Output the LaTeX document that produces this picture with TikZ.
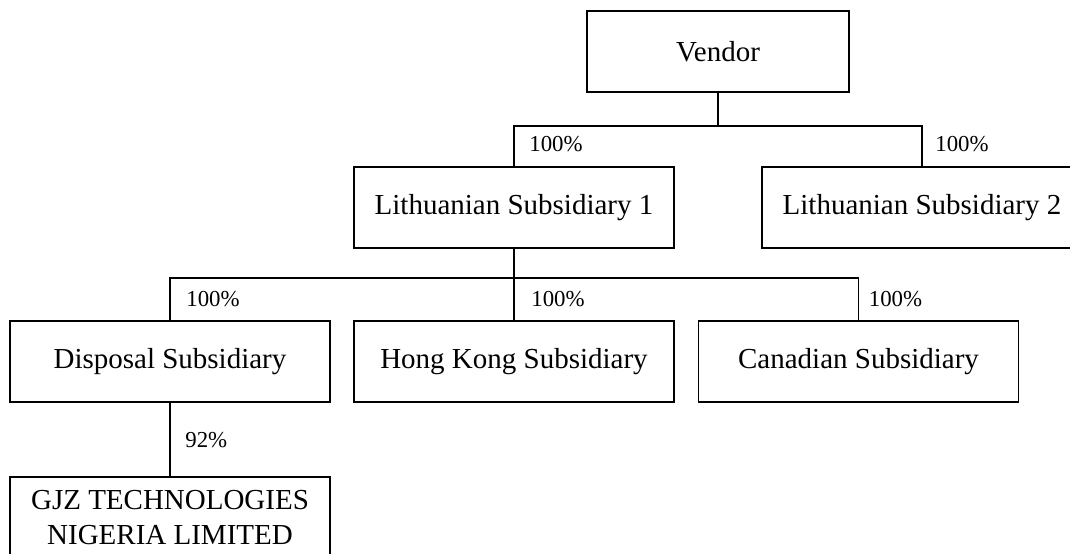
\documentclass[tikz,border=0pt]{standalone}
\usepackage{fontspec}
\setmainfont{Liberation Serif}
\usepackage{tikz}

\tikzset{
	entity/.style={draw, line width=0.6pt, minimum width=6.4cm, minimum height=1.62cm, inner sep=0pt, align=center, font=\fontsize{16.5}{20}\selectfont},
	share/.style={anchor=west, inner sep=0pt, font=\fontsize{13}{15}\selectfont},
	link/.style={line width=0.6pt}
}

\begin{document}
\begin{tikzpicture}
	\clip (0,0) rectangle (21.4,-11.06);

	% owners
	\node[entity, minimum width=5.24cm] (vendor) at (14.36,-1.03) {Vendor};
	\node[entity] (lit1) at (10.28,-4.15) {Lithuanian Subsidiary 1};
	\node[entity] (lit2) at (18.44,-4.15) {Lithuanian Subsidiary 2};

	% subsidiaries
	\node[entity] (disposal) at (3.4,-7.23) {Disposal Subsidiary};
	\node[entity] (hongkong) at (10.28,-7.23) {Hong Kong Subsidiary};
	\node[entity] (canada) at (17.17,-7.23) {Canadian Subsidiary};
	\node[entity] (gjz) at (3.4,-10.35) {GJZ TECHNOLOGIES\\NIGERIA LIMITED};

	\coordinate (bus1) at (14.36,-2.52);
	\coordinate (bus2) at (10.28,-5.56);

	\draw [link] (vendor.south) -- (bus1);
	\draw [link] (lit1.north) |- (bus1) -| (lit2.north);
	\draw [link] (lit1.south) -- (bus2);
	\draw [link] (disposal.north) |- (bus2) -| (canada.north);
	\draw [link] (bus2) -- (hongkong.north);
	\draw [link] (disposal.south) -- (gjz.north);

	\node[share] (s1) at ([xshift=0.3cm, yshift=0.44cm]lit1.north) {100\%};
	\node[share] (s2) at ([xshift=0.26cm, yshift=0.44cm]lit2.north) {100\%};
	\node[share] (s3) at ([xshift=0.32cm, yshift=0.42cm]disposal.north) {100\%};
	\node[share] (s4) at ([xshift=0.34cm, yshift=0.42cm]hongkong.north) {100\%};
	\node[share] (s5) at ([xshift=0.2cm, yshift=0.42cm]canada.north) {100\%};
	\node[share] (s6) at ([xshift=0.3cm, yshift=-0.76cm]disposal.south) {92\%};
\end{tikzpicture}
\end{document}
